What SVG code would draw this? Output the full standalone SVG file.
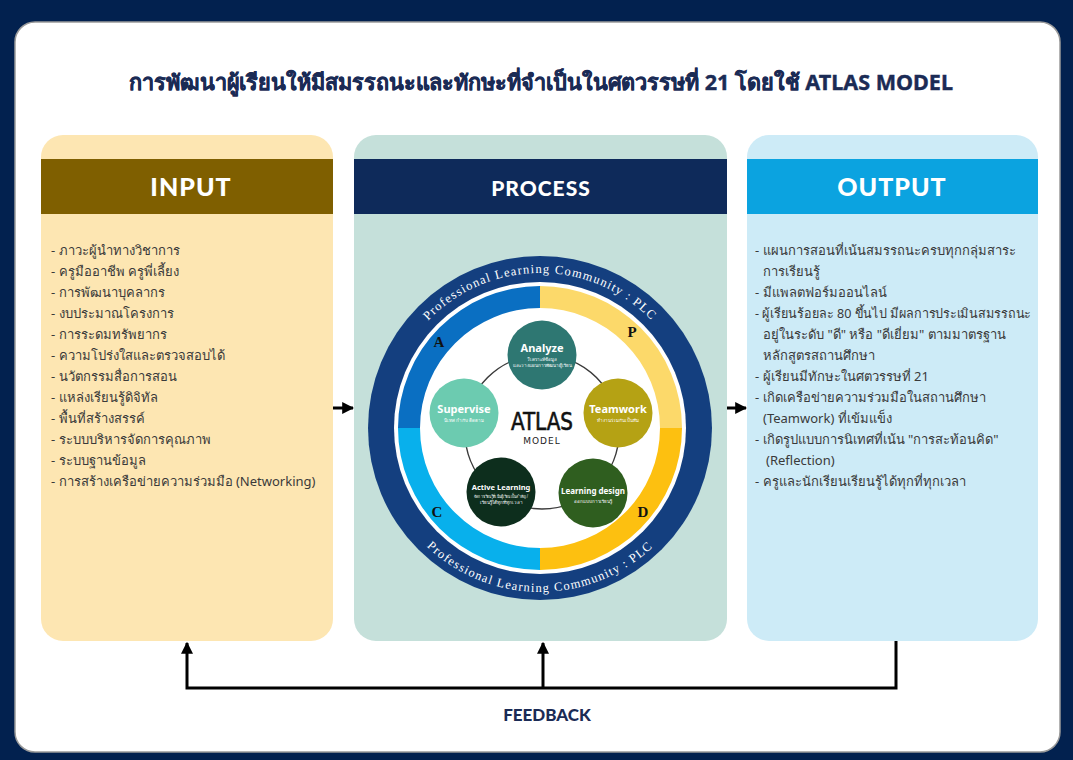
<svg xmlns="http://www.w3.org/2000/svg" width="1073" height="760" viewBox="0 0 1073 760">
<defs>
<style>
.th{font-family:"Noto Sans","DejaVu Sans",sans-serif;}
.list{font-family:"Noto Sans","DejaVu Sans",sans-serif;font-size:13px;fill:#3a3a3a;}
.hdr{font-family:"Lato","Liberation Sans",sans-serif;font-weight:900;fill:#ffffff;text-anchor:middle;dominant-baseline:central;}
.ctitle{font-family:"Noto Sans","DejaVu Sans",sans-serif;font-weight:bold;fill:#ffffff;text-anchor:middle;}
.csub{font-family:"Noto Sans","DejaVu Sans",sans-serif;font-size:4.5px;fill:#ffffff;text-anchor:middle;}
.pdca{font-family:"Liberation Serif",serif;font-weight:bold;font-size:15px;fill:#111;text-anchor:middle;dominant-baseline:central;}
.plc{font-family:"Liberation Serif",serif;font-size:12.5px;fill:#ffffff;letter-spacing:1.2px;}
.conn{stroke:#000;stroke-width:3;fill:none;}
</style>
<marker id="ah" viewBox="0 0 10 10" refX="9" refY="5" markerWidth="4" markerHeight="4" orient="auto-start-reverse" markerUnits="strokeWidth">
<path d="M0,0 L10,5 L0,10 Z" fill="#000"/>
</marker>
<path id="arcTop" d="M 385 428 A 155 155 0 0 1 695 428"/>
<path id="arcBot" d="M 376 428 A 164 164 0 0 0 704 428"/>
</defs>

<rect x="0" y="0" width="1073" height="760" fill="#02214f"/>
<rect x="15" y="22" width="1045" height="730" rx="20" ry="20" fill="#ffffff" stroke="#9a9a9a" stroke-width="1.5"/>

<text x="541" y="90" class="th" font-size="21.7" font-weight="bold" fill="#1b2b55" text-anchor="middle" stroke="#1b2b55" stroke-width="0.4" textLength="824" lengthAdjust="spacingAndGlyphs">การพัฒนาผู้เรียนให้มีสมรรถนะและทักษะที่จำเป็นในศตวรรษที่ 21 โดยใช้ ATLAS MODEL</text>

<g id="input">
<rect x="41" y="135" width="292" height="506" rx="22" fill="#fde6b2"/>
<rect x="41" y="159" width="292" height="55" fill="#7f5f00"/>
<text x="191" y="186" class="hdr" font-size="25" letter-spacing="1">INPUT</text>
<g class="list">
<text x="51" y="255">- ภาวะผู้นำทางวิชาการ</text>
<text x="51" y="276">- ครูมืออาชีพ ครูพี่เลี้ยง</text>
<text x="51" y="297">- การพัฒนาบุคลากร</text>
<text x="51" y="318">- งบประมาณโครงการ</text>
<text x="51" y="339">- การระดมทรัพยากร</text>
<text x="51" y="360">- ความโปร่งใสและตรวจสอบได้</text>
<text x="51" y="381">- นวัตกรรมสื่อการสอน</text>
<text x="51" y="402">- แหล่งเรียนรู้ดิจิทัล</text>
<text x="51" y="423">- พื้นที่สร้างสรรค์</text>
<text x="51" y="444">- ระบบบริหารจัดการคุณภาพ</text>
<text x="51" y="465">- ระบบฐานข้อมูล</text>
<text x="51" y="486">- การสร้างเครือข่ายความร่วมมือ (Networking)</text>
</g>
</g>

<g id="process">
<rect x="354" y="135" width="373" height="506" rx="22" fill="#c5e0da"/>
<rect x="354" y="159" width="373" height="55" fill="#0e2a5a"/>
<text x="541" y="187" class="hdr" font-size="21" letter-spacing="1">PROCESS</text>
</g>

<g id="plc-ring">
<circle cx="540" cy="428" r="172" fill="#143f7f"/>
<circle cx="540" cy="428" r="146" fill="#ffffff"/>
<path d="M 398 428 A 142 142 0 0 1 540 286 L 540 308 A 120 120 0 0 0 420 428 Z" fill="#0a6fc2"/>
<path d="M 540 286 A 142 142 0 0 1 682 428 L 660 428 A 120 120 0 0 0 540 308 Z" fill="#fcd96a"/>
<path d="M 682 428 A 142 142 0 0 1 540 570 L 540 548 A 120 120 0 0 0 660 428 Z" fill="#fdc010"/>
<path d="M 540 570 A 142 142 0 0 1 398 428 L 420 428 A 120 120 0 0 0 540 548 Z" fill="#08b0ec"/>
<text class="plc"><textPath href="#arcTop" startOffset="50%" text-anchor="middle">Professional Learning Community : PLC</textPath></text>
<text class="plc"><textPath href="#arcBot" startOffset="50%" text-anchor="middle">Professional Learning Community : PLC</textPath></text>
<text x="439" y="342" class="pdca">A</text>
<text x="632" y="332" class="pdca">P</text>
<text x="437" y="512" class="pdca">C</text>
<text x="643" y="512" class="pdca">D</text>
</g>

<g id="atlas-center">
<circle cx="542" cy="432" r="77" fill="none" stroke="#3a3a3a" stroke-width="1.5"/>
<text x="542" y="430" font-family="DejaVu Sans Condensed, DejaVu Sans, sans-serif" font-size="25" fill="#111" stroke="#111" stroke-width="0.6" text-anchor="middle" textLength="62" lengthAdjust="spacingAndGlyphs">ATLAS</text>
<text x="542" y="444" font-family="DejaVu Sans, sans-serif" font-size="9" fill="#222" text-anchor="middle" letter-spacing="1">MODEL</text>
</g>

<g id="analyze">
<circle cx="542" cy="355" r="34.5" fill="#2e7772"/>
<text x="542" y="352" class="ctitle" font-size="11">Analyze</text>
<text x="542" y="361" class="csub">วิเคราะห์ข้อมูล</text>
<text x="542" y="367" class="csub">และวางแผนการพัฒนาผู้เรียน</text>
</g>

<g id="teamwork">
<circle cx="618" cy="413" r="34.5" fill="#b5a214"/>
<text x="618" y="413" class="ctitle" font-size="11">Teamwork</text>
<text x="618" y="422" class="csub">ทำงานร่วมกันเป็นทีม</text>
</g>

<g id="learning-design">
<circle cx="593" cy="493" r="34.5" fill="#2f5e1f"/>
<text x="593" y="494" class="ctitle" font-size="8">Learning design</text>
<text x="593" y="503" class="csub">ออกแบบการเรียนรู้</text>
</g>

<g id="active-learning">
<circle cx="501" cy="492" r="34.5" fill="#0d2e1d"/>
<text x="501" y="490" class="ctitle" font-size="7.5">Active Learning</text>
<text x="501" y="498" class="csub" font-size="4" textLength="54" lengthAdjust="spacingAndGlyphs">จัดการเรียนรู้ที่เน้นผู้เรียนเป็นสำคัญ /</text>
<text x="501" y="504" class="csub" font-size="4">เรียนรู้ได้ทุกที่ทุกเวลา</text>
</g>

<g id="supervise">
<circle cx="464" cy="413" r="34.5" fill="#6ccbb0"/>
<text x="464" y="413" class="ctitle" font-size="11">Supervise</text>
<text x="464" y="422" class="csub">นิเทศ กำกับ ติดตาม</text>
</g>

<g id="output">
<rect x="747" y="135" width="291" height="506" rx="22" fill="#cdebf7"/>
<rect x="747" y="159" width="291" height="55" fill="#0ba3e0"/>
<text x="892" y="186" class="hdr" font-size="25" letter-spacing="1">OUTPUT</text>
<g class="list">
<text x="755" y="255">- แผนการสอนที่เน้นสมรรถนะครบทุกกลุ่มสาระ</text>
<text x="763" y="276">การเรียนรู้</text>
<text x="755" y="297">- มีแพลตฟอร์มออนไลน์</text>
<text x="755" y="318" textLength="276" lengthAdjust="spacingAndGlyphs">- ผู้เรียนร้อยละ 80 ขึ้นไป มีผลการประเมินสมรรถนะ</text>
<text x="763" y="339">อยู่ในระดับ "ดี" หรือ "ดีเยี่ยม" ตามมาตรฐาน</text>
<text x="763" y="360">หลักสูตรสถานศึกษา</text>
<text x="755" y="381">- ผู้เรียนมีทักษะในศตวรรษที่ 21</text>
<text x="755" y="402">- เกิดเครือข่ายความร่วมมือในสถานศึกษา</text>
<text x="763" y="423">(Teamwork) ที่เข้มแข็ง</text>
<text x="755" y="444">- เกิดรูปแบบการนิเทศที่เน้น "การสะท้อนคิด"</text>
<text x="766" y="465">(Reflection)</text>
<text x="755" y="486">- ครูและนักเรียนเรียนรู้ได้ทุกที่ทุกเวลา</text>
</g>
</g>

<g id="connectors">
<line x1="333" y1="408" x2="353" y2="408" class="conn" marker-end="url(#ah)"/>
<line x1="727" y1="408" x2="746" y2="408" class="conn" marker-end="url(#ah)"/>
<polyline points="896,641 896,688 187,688 187,643" class="conn" marker-end="url(#ah)"/>
<line x1="543" y1="688" x2="543" y2="643" class="conn" marker-end="url(#ah)"/>
</g>

<text x="547" y="721" font-family="Lato, 'Liberation Sans', sans-serif" font-weight="900" font-size="17" fill="#1b2b55" text-anchor="middle">FEEDBACK</text>
</svg>
